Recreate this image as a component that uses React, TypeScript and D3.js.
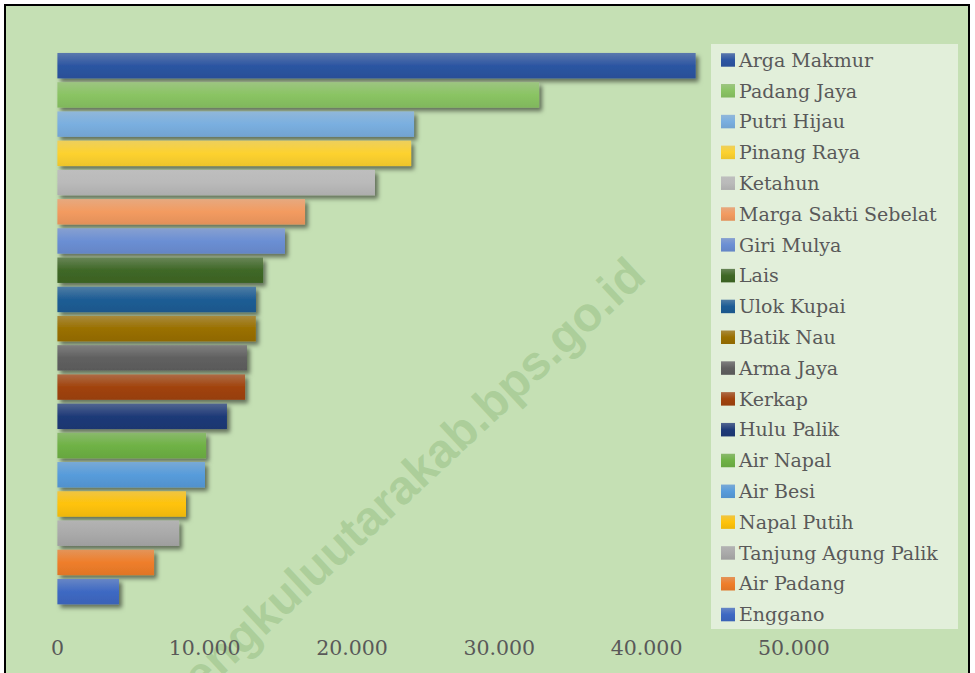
import React from 'react';
import * as d3 from 'd3';

// jumlah penduduk per kecamatan
const kecamatan = [
  'Arga Makmur', 'Padang Jaya', 'Putri Hijau', 'Pinang Raya', 'Ketahun',
  'Marga Sakti Sebelat', 'Giri Mulya', 'Lais', 'Ulok Kupai', 'Batik Nau',
  'Arma Jaya', 'Kerkap', 'Hulu Palik', 'Air Napal', 'Air Besi',
  'Napal Putih', 'Tanjung Agung Palik', 'Air Padang', 'Enggano',
];
const penduduk = [
  43330, 32700, 24210, 24010, 21560,
  16810, 15450, 13960, 13480, 13470,
  12870, 12740, 11510, 10090, 10020,
  8730, 8260, 6560, 4180,
];
const warna = [
  '#2c55a2', '#8ac463', '#7aafe0', '#fdd22f', '#bababa',
  '#f39b60', '#6b8fd4', '#3f6826', '#1d5d95', '#9a7000',
  '#606060', '#a1430d', '#1e3a78', '#6fb245', '#579cdb',
  '#ffc30a', '#aaaaaa', '#ef7e2a', '#3e69c3',
];
const tickNilai = [0, 10000, 20000, 30000, 40000, 50000];

const W = 975;
const H = 673;
const fontSerif = '"DejaVu Serif", "Liberation Serif", serif';

const fmt = d3.formatLocale({ decimal: ',', thousands: '.', grouping: [3], currency: ['', ''] }).format(',d');

export default function App() {
  const x = d3.scaleLinear().domain([0, 60000]).range([57.4, 941.2]);
  const y = d3.scaleBand<string>()
    .domain(kecamatan)
    .range([44.2, 613.1])
    .paddingInner(0.13)
    .paddingOuter(0.3);
  const legY = d3.scalePoint<string>().domain(kecamatan).range([66.7, 621.3]);

  return (
    <svg width={W} height={H} style={{ position: 'absolute', left: 0, top: 0 }}>
      <defs>
        <filter id="bayang" x="-5%" y="-30%" width="115%" height="180%">
          <feDropShadow dx="3" dy="3.5" stdDeviation="2.2" floodColor="#000" floodOpacity="0.5" />
        </filter>
        {warna.map((c, i) => (
          <linearGradient key={i} id={`grad${i}`} x1="0" y1="0" x2="0" y2="1">
            <stop offset="0%" stopColor={d3.interpolateRgb(c, '#c8c8c8')(0.3)} />
            <stop offset="50%" stopColor={c} />
            <stop offset="100%" stopColor={d3.color(c)!.darker(0.2).formatHex()} />
          </linearGradient>
        ))}
      </defs>
      <rect x={0} y={0} width={W} height={H} fill="#fff" />
      <rect x={5} y={5} width={964} height={H + 10} fill="#c5e0b4" stroke="#000" strokeWidth={2} />

      <g>
        {kecamatan.map((k, i) => (
          <rect
            key={k}
            x={x(0)}
            y={y(k)}
            width={x(penduduk[i]) - x(0)}
            height={y.bandwidth()}
            fill={`url(#grad${i})`}
            filter="url(#bayang)"
          />
        ))}
      </g>

      {/* watermark, terpotong di tepi bawah seperti aslinya */}
      <text
        transform="translate(648,279) rotate(-43)"
        textAnchor="end"
        fontFamily='"Liberation Sans", Arial, sans-serif'
        fontWeight="bold"
        fontSize={48}
        fill="#8db87a"
        fillOpacity={0.45}
      >
        bengkuluutarakab.bps.go.id
      </text>

      <g fontFamily={fontSerif} fontSize={20.5} fill="#595959" textAnchor="middle">
        {tickNilai.map((t) => (
          <text key={t} x={x(t)} y={655}>{fmt(t)}</text>
        ))}
      </g>

      <g>
        <rect x={711} y={44} width={247} height={585} fill="#e2efda" />
        {kecamatan.map((k, i) => (
          <g key={k} transform={`translate(0,${legY(k)})`}>
            <rect x={721} y={-13.5} width={14} height={13.5} fill={`url(#grad${i})`} />
            <text x={739} y={0} fontFamily={fontSerif} fontSize={19} fill="#595959">{k}</text>
          </g>
        ))}
      </g>
    </svg>
  );
}
